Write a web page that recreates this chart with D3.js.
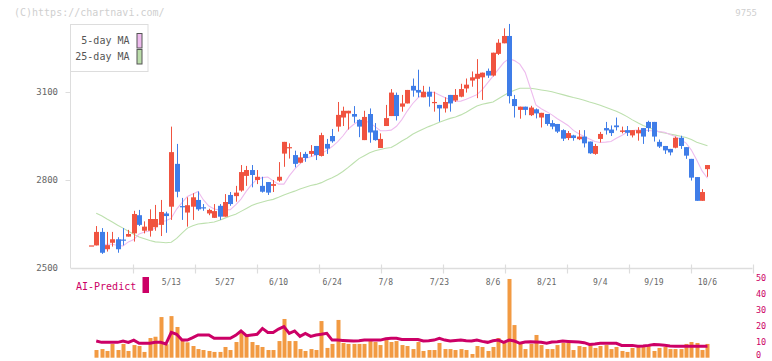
<!DOCTYPE html>
<html><head><meta charset="utf-8">
<script src="https://cdn.jsdelivr.net/npm/d3@7"></script>
<style>html,body{margin:0;padding:0;background:#fff;}svg{display:block;}</style>
</head><body><div id="chart"></div>
<script>
const dates = ("4/17,4/18,4/21,4/22,4/23,4/24,4/25,4/28,4/30,5/1,5/2,5/7,5/8,5/9,5/12,5/13,5/14,5/15,5/16,5/19,5/20,5/21,5/22,5/23,5/26,5/27,5/28,5/29,5/30,6/2,6/3,6/4,6/5,6/6,6/9,6/10,6/11,6/12,6/13,6/16,6/17,6/18,6/19,6/20,6/23,6/24,6/25,6/26,6/27,6/30,7/1,7/2,7/3,7/4,7/7,7/8,7/9,7/10,7/11,7/14,7/15,7/16,7/17,7/18,7/22,7/23,7/24,7/25,7/28,7/29,7/30,7/31,8/1,8/4,8/5,8/6,8/7,8/8,8/12,8/13,8/14,8/15,8/18,8/19,8/20,8/21,8/22,8/25,8/26,8/27,8/28,8/29,9/1,9/2,9/3,9/4,9/5,9/8,9/9,9/10,9/11,9/12,9/16,9/17,9/18,9/19,9/22,9/24,9/25,9/26,9/29,9/30,10/1,10/2,10/3,10/6").split(",");

const open  = [2577,2577,2623,2564,2586,2598,2597,2607,2618,2680,2627,2627,2639,2647,2686,2709,2855,2711,2689,2709,2732,2707,2686,2671,2712,2675,2749,2745,2764,2814,2834,2800,2780,2793,2780,2798,2890,2910,2885,2859,2889,2889,2916,2882,2923,2950,2982,3013,3027,3025,3005,2936,3025,2969,2909,2984,3018,3090,3050,3061,3121,3107,3082,3101,3064,3056,3044,3090,3071,3084,3112,3139,3145,3150,3172,3156,3230,3266,3291,3076,3039,3050,3021,3041,3013,3025,2994,2991,2970,2943,2952,2939,2948,2931,2889,2940,2977,2972,2986,2964,2970,2952,2959,2977,2998,2998,2930,2916,2906,2910,2944,2912,2872,2810,2729,2837];
const high  = [2577,2643,2636,2623,2623,2605,2636,2630,2695,2698,2659,2700,2715,2732,2692,2982,2923,2739,2741,2755,2761,2718,2702,2718,2718,2752,2759,2780,2851,2848,2851,2834,2811,2793,2800,2861,2930,2925,2900,2895,2896,2919,2916,2961,2940,2974,3066,3050,3036,3052,3007,3036,3044,2994,2959,3056,3110,3098,3090,3107,3146,3176,3121,3118,3101,3056,3082,3090,3110,3128,3146,3170,3212,3166,3180,3234,3280,3317,3332,3090,3050,3050,3053,3044,3029,3025,3004,2991,2973,2967,2954,2970,2970,2931,2923,2964,2998,2986,3013,2982,2984,2970,2980,2977,3002,2998,2938,2916,2906,2948,2951,2912,2872,2810,2769,2851];
const low   = [2577,2577,2548,2556,2573,2552,2577,2607,2590,2643,2618,2607,2627,2609,2620,2664,2741,2664,2641,2664,2695,2695,2680,2671,2664,2675,2712,2726,2760,2780,2775,2786,2757,2749,2759,2794,2845,2873,2843,2857,2862,2880,2868,2880,2889,2927,2965,2984,2972,2995,2946,2936,2927,2934,2909,2984,3018,3003,3033,3061,3084,3082,3082,3050,3033,2999,3030,3033,3066,3082,3098,3118,3079,3073,3148,3153,3226,3266,3061,3013,3009,3021,3018,3010,2979,2985,2973,2960,2933,2936,2934,2936,2911,2889,2886,2928,2955,2950,2969,2959,2950,2945,2934,2923,2964,2931,2909,2889,2884,2908,2906,2872,2798,2729,2729,2811];
const close = [2577,2623,2552,2578,2598,2564,2594,2616,2684,2647,2641,2667,2667,2691,2677,2895,2760,2709,2714,2741,2700,2705,2698,2694,2675,2725,2718,2757,2827,2834,2817,2811,2760,2757,2786,2811,2930,2912,2855,2877,2875,2899,2885,2953,2907,2932,3022,3036,3036,3016,2982,3015,2962,2936,2940,3011,3098,3018,3061,3107,3105,3098,3101,3084,3066,3044,3066,3061,3090,3110,3125,3150,3162,3166,3156,3234,3268,3291,3086,3052,3050,3039,3047,3027,3029,2991,2982,2965,2941,2960,2943,2948,2925,2891,2916,2957,2969,2960,2980,2969,2961,2970,2970,2948,2977,2948,2914,2901,2894,2944,2916,2883,2808,2729,2759,2851];

const ma5  = [null,null,2578,2581,2581,2577,2575,2589,2597,2616,2623,2626,2636,2658,2661,2670,2701,2723,2744,2752,2761,2732,2711,2701,2698,2698,2699,2715,2735,2762,2785,2803,2808,2810,2797,2786,2786,2814,2837,2855,2873,2879,2885,2890,2901,2914,2930,2950,2974,2989,3001,3001,2996,2982,2968,2968,2970,2983,3006,3035,3060,3080,3092,3097,3099,3090,3081,3074,3068,3069,3075,3083,3091,3108,3131,3154,3177,3200,3214,3207,3195,3167,3112,3056,3043,3033,3022,3009,2998,2986,2969,2958,2948,2940,2931,2928,2929,2931,2942,2952,2963,2969,2970,2970,2969,2967,2965,2963,2955,2948,2938,2926,2902,2868,2831,2806];
const ma25 = [null,2687,2678,2667,2657,2646,2636,2625,2615,2606,2600,2594,2589,2588,2586,2588,2601,2619,2636,2644,2650,2652,2654,2657,2663,2670,2677,2683,2693,2703,2713,2720,2725,2730,2734,2741,2749,2756,2762,2769,2775,2781,2785,2791,2800,2808,2817,2829,2843,2858,2873,2883,2893,2900,2904,2908,2911,2921,2933,2943,2956,2965,2974,2982,2989,2997,3004,3010,3015,3022,3031,3042,3052,3058,3062,3066,3077,3088,3098,3106,3113,3113,3113,3110,3107,3104,3101,3096,3091,3086,3081,3077,3072,3066,3061,3055,3048,3041,3034,3026,3016,3005,2995,2986,2979,2972,2964,2960,2957,2953,2949,2945,2938,2929,2923,2917];

const volume = [0,4.8,5.4,4.2,8.6,4.8,8.6,4.2,7.9,7.3,3.6,12.3,13.1,25.4,8.4,26,19.2,11.3,9.6,7.3,5.4,4.8,4.2,3.6,3.6,6.7,4.8,9.8,15.6,13.5,9.8,7.9,6.7,4.8,4.8,10.4,24.2,10.4,10.4,5.4,4.2,5.4,4.8,22.9,6.1,8.6,23.6,9.2,8.6,8.6,8.6,8.6,10.4,9.8,7.9,11,9.8,10.4,7.9,7.3,5.4,9.8,4.2,4.8,4.8,9.2,5.4,5.4,4.8,5.4,4.8,2.3,7.3,6.7,4.2,6.7,12.3,9.2,49.2,20.4,8.6,5.4,8.6,14.2,7.9,5.4,5.4,7.9,9.2,9.2,4.8,7.3,6.7,7.9,6.1,7.3,7.9,5.4,6.7,4.2,3.6,6.1,6.7,7.3,7.9,4.2,6.1,6.7,5.4,5.4,5.4,8.6,9.8,9.2,4.8,8.6];
const aiPredict = [null,10.4,9.6,9.6,9.6,9.6,10.4,9.6,11,9,9,9,9.6,9.6,8.6,15.8,14.6,11,11,12.5,14.2,14.2,14.2,12.1,12.1,12.1,12.1,14,16.7,13.8,14.2,14.6,18.3,15.8,15.8,17.9,19.4,15.2,16.7,13.3,15.2,13.3,14.2,14.6,15.2,11,11,10.8,10.6,10.4,10.6,11,11,11,11,11.8,12.1,12.1,11.4,11.4,11.4,11.4,10.4,10.6,11,12.1,11,10.4,10.8,11,10.6,10.4,11,10.2,9.6,10.6,11,9.6,11,10.4,9,9.8,10,9.8,9.6,9,9.8,10,10.4,10.2,10,9.8,9.4,8.3,8.6,9,9,9,9,7.7,7.7,7.7,7.2,7.3,7.7,8.3,8.1,7.8,7.3,7.1,7.1,7.1,7.1,7.1,7.1,7.1];

const xTickLabels = ["5/13","5/27","6/10","6/24","7/8","7/23","8/6","8/21","9/4","9/19","10/6"];
const priceTicks = [2500, 2800, 3100];
const volumeTicks = [0, 10, 20, 30, 40, 50];
const seriesNames = ["5-day MA", "25-day MA"];

const W = 772, H = 361;
const FONT = "'DejaVu Sans Mono', 'Liberation Mono', monospace";
const UP = "#f05340", DOWN = "#3f7de8";

const svg = d3.select("#chart").append("svg").attr("width", W).attr("height", H)
  .style("font-family", FONT);

const plotL = 70.5, plotR = 752.5, plotB = 268, plotT = 4;
const x = d3.scaleLinear().domain([-3.8, 123.4]).range([plotL, plotR]);
const y = d3.scaleLinear().domain([2500, 3400]).range([plotB, plotT]);
const yv = d3.scaleLinear().domain([0, 50]).range([357.7, 277.7]);
const idx = d3.range(dates.length);

// watermark & code
svg.append("text").attr("x", 14).attr("y", 12.5).attr("dominant-baseline", "central")
  .attr("font-size", 10).attr("fill", "#cfcfcf").text("(C)https://chartnavi.com/");
svg.append("text").attr("x", 757).attr("y", 12.5).attr("dominant-baseline", "central")
  .attr("text-anchor", "end").attr("font-size", 9).attr("fill", "#cfcfcf").text("9755");

// axes
svg.append("line").attr("x1", plotL).attr("x2", plotL).attr("y1", 24).attr("y2", plotB)
  .attr("stroke", "#ddd");
svg.append("line").attr("x1", plotL).attr("x2", plotR).attr("y1", plotB + 0.5).attr("y2", plotB + 0.5)
  .attr("stroke", "#ddd").attr("stroke-width", 1.4);
const gridX = d3.scaleLinear().domain([0, 11]).range([plotL, plotR]);
svg.append("g").selectAll("line").data(d3.range(1, 12)).join("line")
  .attr("x1", d => Math.round(gridX(d)) + 0.5).attr("x2", d => Math.round(gridX(d)) + 0.5)
  .attr("y1", 264.5).attr("y2", 273.5).attr("stroke", "#ddd").attr("stroke-width", 1.2);
svg.append("g").selectAll("line").data(priceTicks.filter(d => d > 2500)).join("line")
  .attr("x1", 65.5).attr("x2", plotL).attr("y1", d => Math.round(y(d)) + 0.5).attr("y2", d => Math.round(y(d)) + 0.5)
  .attr("stroke", "#ddd");
svg.append("g").selectAll("text").data(priceTicks).join("text")
  .attr("x", 58).attr("y", d => y(d)).attr("dominant-baseline", "central").attr("text-anchor", "end")
  .attr("font-size", 9).attr("fill", "#666").text(d => d);

// x labels from dates
svg.append("g").selectAll("text").data(xTickLabels).join("text")
  .attr("x", d => x(dates.indexOf(d))).attr("y", 282).attr("dominant-baseline", "central")
  .attr("text-anchor", "middle").attr("font-size", 8).attr("fill", "#666").text(d => d);

// moving averages
const line = arr => d3.line().defined(i => arr[i] != null).x(i => x(i)).y(i => y(arr[i]))(idx);
svg.append("path").attr("d", line(ma25)).attr("fill", "none").attr("stroke", "#bde0ae").attr("stroke-width", 1.1);
svg.append("path").attr("d", line(ma5)).attr("fill", "none").attr("stroke", "#eebcee").attr("stroke-width", 1.1);

// candles
const cg = svg.append("g");
idx.forEach(i => {
  const col = close[i] >= open[i] ? UP : DOWN;
  const cx = Math.round(x(i));
  cg.append("line").attr("x1", cx + 0.5).attr("x2", cx + 0.5)
    .attr("y1", y(high[i])).attr("y2", y(low[i])).attr("stroke", col).attr("stroke-width", 1);
  const top = y(Math.max(open[i], close[i])), bot = y(Math.min(open[i], close[i]));
  cg.append("rect").attr("x", cx - 2).attr("width", 5).attr("y", top)
    .attr("height", Math.max(1.2, bot - top)).attr("fill", col);
});

// legend
const lg = svg.append("g");
lg.append("rect").attr("x", 70.5).attr("y", 24.5).attr("width", 77.5).attr("height", 47)
  .attr("fill", "#fff").attr("stroke", "#ddd");
const swatch = ["#eebbee", "#bbddaa"];
seriesNames.forEach((n, k) => {
  const cy = 40.7 + k * 16;
  lg.append("text").attr("x", 129.5).attr("y", cy).attr("dominant-baseline", "central")
    .attr("text-anchor", "end").attr("font-size", 10).attr("fill", "#555").text(n);
  lg.append("rect").attr("x", 137).attr("y", cy - 7.2).attr("width", 5).attr("height", 14.5)
    .attr("fill", swatch[k]).attr("stroke", "#555").attr("stroke-width", 1);
});

// volume panel
svg.append("g").selectAll("rect").data(idx.filter(i => volume[i] > 0)).join("rect")
  .attr("x", i => Math.round(x(i)) - 1.5).attr("width", 4)
  .attr("y", i => yv(volume[i])).attr("height", i => yv(0) - yv(volume[i]))
  .attr("fill", "#f29a42");
svg.append("path")
  .attr("d", d3.line().defined(i => aiPredict[i] != null).x(i => x(i)).y(i => yv(aiPredict[i]))(idx))
  .attr("fill", "none").attr("stroke", "#cc0066").attr("stroke-width", 3);
svg.append("g").selectAll("text").data(volumeTicks).join("text")
  .attr("x", 756).attr("y", d => Math.min(yv(d), 355)).attr("dominant-baseline", "central")
  .attr("font-size", 8.5).attr("fill", "#cc0066").text(d => d);
svg.append("text").attr("x", 76).attr("y", 286).attr("dominant-baseline", "central")
  .attr("font-size", 10).attr("fill", "#cc0066").text("AI-Predict");
svg.append("rect").attr("x", 142.5).attr("y", 277).attr("width", 6.5).attr("height", 16).attr("fill", "#cc0066");
</script></body></html>
